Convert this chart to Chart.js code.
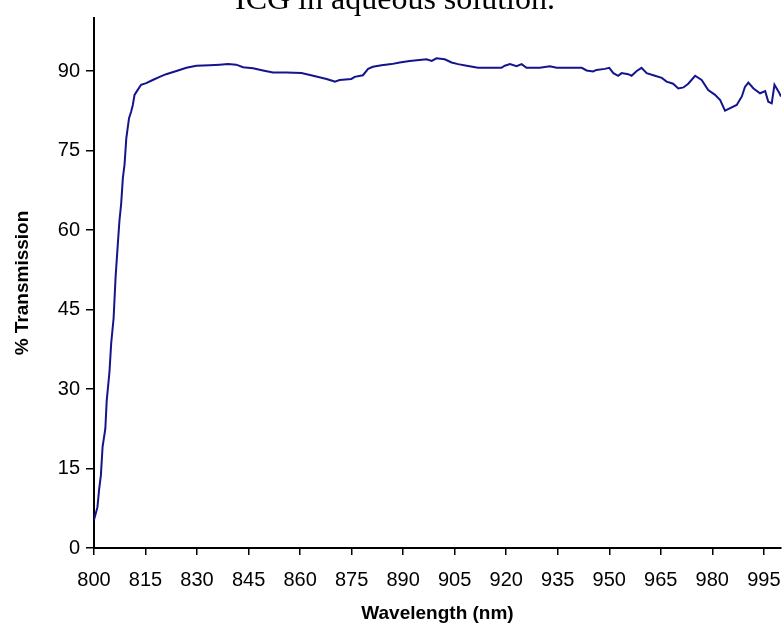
<!DOCTYPE html>
<html>
<head>
<meta charset="utf-8">
<script src="https://cdn.jsdelivr.net/npm/chart.js@4"></script>
<style>
  html, body { margin: 0; padding: 0; background: #fff; }
  #wrap { position: relative; width: 782px; height: 628px; }
</style>
</head>
<body>
<div id="wrap"><canvas id="c" width="782" height="628"></canvas></div>
<script>
const chartTitle = "ICG in aqueous solution.";
const xTitle = "Wavelength (nm)";
const yTitle = "% Transmission";

const wavelengths = [
  800, 801, 801.5, 802, 802.5, 803.3, 803.7, 804.5, 805, 805.7,
  806.3, 807, 807.4, 807.9, 808.4, 808.9, 809.4, 810.2, 810.8, 811.3,
  811.8, 812.5, 813.7, 815.2, 817.1, 819.1, 821, 824, 826.9, 829.8,
  833.7, 836.6, 839, 841.4, 843.4, 846.3, 849.2, 852.1, 856, 860.4,
  863.8, 867.7, 869.6, 870.1, 871.5, 874.9, 875.9, 878.3, 879.8, 881.2,
  883.7, 886.6, 889, 891.9, 896.8, 898.3, 899.7, 902.1, 904.1, 906,
  908.5, 911.8, 915.2, 918.6, 919.6, 921.1, 923, 924.5, 925.9, 929.8,
  932.7, 934.7, 942, 943.4, 945.3, 946.3, 948.7, 950, 951.2, 952.6,
  953.6, 955.5, 956.5, 958, 959.4, 960.9, 963.3, 965.3, 966.7, 968.6,
  970.1, 971.6, 973, 975, 976.9, 978.8, 980.8, 982.3, 983.7, 985.2,
  987.1, 988.6, 989.5, 990.5, 992, 993.9, 995.4, 996.3, 997.3, 998.1,
  999.3, 1000
];
const transmission = [
  5.3, 7.7, 11.1, 13.7, 19.1, 22.5, 27.8, 33.2, 38.6, 43.3,
  51.3, 58.0, 61.7, 64.9, 69.8, 72.4, 77.3, 81.1, 82.3, 83.6,
  85.5, 86.2, 87.4, 87.7, 88.3, 88.9, 89.4, 90.0, 90.6, 91.0,
  91.1, 91.2, 91.3, 91.2, 90.7, 90.5, 90.1, 89.7, 89.7, 89.6,
  89.1, 88.5, 88.1, 88.0, 88.3, 88.5, 88.9, 89.2, 90.4, 90.8,
  91.1, 91.3, 91.6, 91.9, 92.2, 91.9, 92.4, 92.2, 91.6, 91.3,
  91.0, 90.6, 90.6, 90.6, 91.0, 91.3, 90.9, 91.3, 90.6, 90.6,
  90.9, 90.6, 90.6, 90.1, 89.9, 90.2, 90.4, 90.6, 89.6, 89.1,
  89.6, 89.4, 89.1, 90.0, 90.6, 89.6, 89.1, 88.7, 88.0, 87.6,
  86.7, 86.9, 87.6, 89.1, 88.3, 86.4, 85.5, 84.5, 82.5, 83.0,
  83.6, 85.2, 87.0, 87.8, 86.7, 85.8, 86.2, 84.2, 83.9, 87.4,
  86.1, 85.2
];
const xTickValues = [800, 815, 830, 845, 860, 875, 890, 905, 920, 935, 950, 965, 980, 995];
const yTickValues = [0, 15, 30, 45, 60, 75, 90];
const xMin = 800, xMax = 1000;
const yMin = 0, yMax = 100;

const points = wavelengths.map((w, i) => ({ x: w, y: transmission[i] }));

const titlePlugin = {
  id: 'cutTitle',
  afterDraw(chart) {
    const ctx = chart.ctx;
    ctx.save();
    ctx.font = '32px "Liberation Serif", "Times New Roman", serif';
    ctx.fillStyle = '#000';
    ctx.textAlign = 'center';
    ctx.textBaseline = 'alphabetic';
    ctx.fillText(chartTitle, 395, 9);
    ctx.restore();
  }
};

const axisFont = { family: '"Liberation Sans", Arial, sans-serif', size: 20 };
const titleFont = { family: '"Liberation Sans", Arial, sans-serif', size: 19, weight: 'bold' };

new Chart(document.getElementById('c'), {
  type: 'line',
  data: {
    datasets: [{
      data: points,
      borderColor: '#14148c',
      borderWidth: 2,
      pointRadius: 0,
      tension: 0,
      fill: false
    }]
  },
  options: {
    responsive: false,
    animation: false,
    layout: { padding: { top: 15, right: 1, left: 0, bottom: 0 } },
    plugins: { legend: { display: false }, tooltip: { enabled: false }, title: { display: false } },
    scales: {
      x: {
        type: 'linear',
        min: xMin, max: xMax,
        afterBuildTicks(s) { s.ticks = xTickValues.map(v => ({ value: v })); },
        ticks: { autoSkip: false, maxRotation: 0, color: '#000', font: axisFont, padding: 13 },
        grid: { display: true, drawOnChartArea: false, drawTicks: true, tickLength: 7, color: '#000', lineWidth: 1.5 },
        border: { display: true, color: '#000', width: 2 },
        title: { display: true, text: xTitle, color: '#000', font: titleFont, padding: { top: 0, bottom: 3 } },
        afterFit(s) { s.height = 80; s.paddingLeft = 0; s.paddingRight = 0; }
      },
      y: {
        min: yMin, max: yMax,
        afterBuildTicks(s) { s.ticks = yTickValues.map(v => ({ value: v })); },
        ticks: { color: '#000', font: axisFont, padding: 6 },
        grid: { display: true, drawOnChartArea: false, drawTicks: true, tickLength: 8, color: '#000', lineWidth: 1.5 },
        border: { display: true, color: '#000', width: 2 },
        title: { display: true, text: yTitle, color: '#000', font: titleFont, padding: { top: 11, bottom: 0 } },
        afterFit(s) { s.width = 94; }
      }
    }
  },
  plugins: [titlePlugin]
});
</script>
</body>
</html>
